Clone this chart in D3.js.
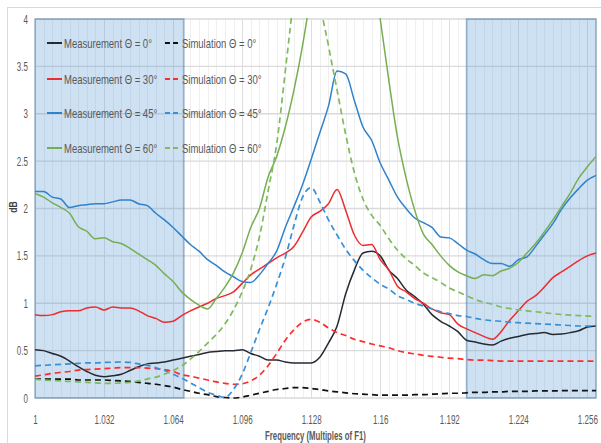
<!DOCTYPE html>
<html><head><meta charset="utf-8">
<script src="https://cdn.jsdelivr.net/npm/d3@7"></script>
<style>body{margin:0;background:#fff}svg{display:block}</style>
</head><body><svg id="c" width="601" height="443"></svg>
<script>
// ---------- DATA ----------
const freq = [1.000,1.004,1.008,1.012,1.016,1.020,1.024,1.028,1.032,1.036,1.040,1.044,1.048,1.052,1.056,1.060,1.064,1.068,1.072,1.076,1.080,1.084,1.088,1.092,1.096,1.100,1.104,1.108,1.112,1.116,1.120,1.124,1.128,1.132,1.136,1.140,1.144,1.148,1.152,1.156,1.160,1.164,1.168,1.172,1.176,1.180,1.184,1.188,1.192,1.196,1.200,1.204,1.208,1.212,1.216,1.220,1.224,1.228,1.232,1.236,1.240,1.244,1.248,1.252,1.256,1.260];

const meas0 = [0.51,0.50,0.47,0.44,0.39,0.33,0.28,0.24,0.225,0.235,0.25,0.29,0.33,0.36,0.37,0.38,0.40,0.42,0.44,0.46,0.48,0.49,0.50,0.50,0.51,0.47,0.44,0.40,0.40,0.38,0.37,0.37,0.37,0.43,0.58,0.76,1.10,1.35,1.53,1.55,1.50,1.35,1.26,1.14,1.07,0.99,0.88,0.81,0.76,0.70,0.61,0.59,0.57,0.56,0.60,0.63,0.65,0.67,0.68,0.69,0.67,0.675,0.69,0.71,0.75,0.76];
const sim0 = [0.20,0.20,0.20,0.20,0.20,0.19,0.19,0.19,0.19,0.185,0.18,0.175,0.165,0.155,0.145,0.13,0.115,0.09,0.07,0.05,0.035,0.015,0.005,0.0,0.01,0.03,0.05,0.07,0.09,0.10,0.11,0.11,0.10,0.09,0.075,0.065,0.055,0.045,0.04,0.035,0.03,0.03,0.03,0.03,0.035,0.035,0.04,0.045,0.05,0.05,0.055,0.06,0.06,0.065,0.065,0.07,0.07,0.07,0.075,0.075,0.075,0.077,0.077,0.077,0.077,0.077];
const meas30 = [0.88,0.87,0.88,0.91,0.92,0.92,0.95,0.96,0.93,0.96,0.95,0.95,0.92,0.87,0.84,0.80,0.81,0.87,0.92,0.96,1.00,1.05,1.08,1.12,1.21,1.30,1.36,1.42,1.48,1.53,1.60,1.75,1.91,1.97,2.05,2.20,1.98,1.72,1.61,1.62,1.46,1.35,1.18,1.12,1.05,1.00,0.94,0.90,0.88,0.78,0.73,0.69,0.65,0.62,0.70,0.82,0.92,1.02,1.08,1.17,1.27,1.33,1.39,1.45,1.50,1.53];
const sim30 = [0.23,0.245,0.26,0.27,0.28,0.295,0.30,0.305,0.31,0.315,0.32,0.32,0.32,0.315,0.31,0.30,0.28,0.245,0.23,0.21,0.19,0.17,0.155,0.145,0.15,0.18,0.24,0.34,0.47,0.61,0.72,0.80,0.83,0.80,0.74,0.69,0.66,0.62,0.595,0.57,0.55,0.53,0.50,0.48,0.465,0.45,0.44,0.43,0.42,0.415,0.405,0.40,0.40,0.395,0.39,0.39,0.39,0.39,0.39,0.39,0.39,0.39,0.39,0.39,0.39,0.39];
const meas45 = [2.18,2.18,2.12,2.10,2.01,2.03,2.04,2.05,2.05,2.07,2.09,2.09,2.05,2.03,1.95,1.88,1.80,1.71,1.62,1.55,1.46,1.40,1.33,1.28,1.23,1.22,1.30,1.42,1.55,1.80,2.02,2.25,2.52,2.80,3.08,3.45,3.42,3.14,2.86,2.72,2.48,2.30,2.12,2.00,1.90,1.85,1.80,1.70,1.69,1.63,1.56,1.52,1.46,1.42,1.42,1.39,1.46,1.49,1.60,1.72,1.84,1.99,2.11,2.21,2.30,2.35];
const sim45 = [0.34,0.345,0.35,0.355,0.36,0.365,0.37,0.37,0.375,0.378,0.38,0.375,0.36,0.345,0.32,0.29,0.25,0.21,0.16,0.11,0.06,0.03,0.005,0.09,0.25,0.48,0.72,0.95,1.20,1.48,1.82,2.12,2.22,2.07,1.88,1.72,1.57,1.45,1.35,1.27,1.20,1.15,1.08,1.04,1.00,0.97,0.94,0.91,0.89,0.87,0.86,0.84,0.825,0.815,0.81,0.80,0.795,0.79,0.785,0.78,0.775,0.77,0.765,0.76,0.76,0.76];
const meas60 = [2.16,2.12,2.06,2.01,1.95,1.81,1.76,1.68,1.69,1.65,1.63,1.58,1.52,1.46,1.40,1.31,1.23,1.12,1.04,0.98,0.94,1.05,1.17,1.32,1.53,1.80,2.00,2.33,2.55,2.86,3.25,3.72,4.3,5,5,5,5,5,5,4.6,4.0,3.35,2.75,2.32,1.98,1.73,1.62,1.50,1.40,1.33,1.29,1.26,1.30,1.29,1.34,1.37,1.43,1.53,1.63,1.75,1.88,2.02,2.16,2.32,2.44,2.55];
const sim60 = [0.20,0.19,0.185,0.18,0.175,0.17,0.165,0.16,0.155,0.155,0.16,0.165,0.18,0.20,0.22,0.25,0.29,0.34,0.41,0.49,0.58,0.67,0.78,0.93,1.12,1.36,1.70,2.18,2.68,3.45,4.3,5.5,5.5,4.25,3.72,3.25,2.78,2.38,2.10,1.93,1.82,1.68,1.56,1.47,1.40,1.32,1.27,1.22,1.16,1.12,1.08,1.04,1.01,0.99,0.96,0.945,0.93,0.92,0.91,0.90,0.89,0.88,0.875,0.87,0.865,0.86];

const seriesNames = ["Measurement Θ = 0°","Simulation Θ = 0°","Measurement Θ = 30°","Simulation Θ = 30°","Measurement Θ = 45°","Simulation Θ = 45°","Measurement Θ = 60°","Simulation Θ = 60°"];
const seriesValues = [meas0, sim0, meas30, sim30, meas45, sim45, meas60, sim60];
const seriesColors = ["#262a33","#111111","#ee2b2f","#ff2b2b","#2f82cc","#3590dc","#77ae52","#7fbb5c"];
const seriesDashed = [false,true,false,true,false,true,false,true];

const xTickValues = [1,1.032,1.064,1.096,1.128,1.16,1.192,1.224,1.256];
const xTickLabels = ["1","1.032","1.064","1.096","1.128","1.16","1.192","1.224","1.256"];
const yTickValues = [0,0.5,1,1.5,2,2.5,3,3.5,4];
const shadedBands = [[1,1.069],[1.2,1.26]];
const xTitle = "Frequency (Multiples of F1)";
const yTitle = "dB";

// ---------- CHART ----------
const FONT = "'Liberation Sans',Arial,sans-serif";
const svg = d3.select("#c");
const L = 35, R = 596, T = 19, B = 398;
const x = d3.scaleLinear().domain([1,1.26]).range([L,R]);
const y = d3.scaleLinear().domain([0,4]).range([B,T]);

function squeeze(sel, f){
  sel.each(function(){
    const w = this.getComputedTextLength();
    d3.select(this).attr("textLength", w*f).attr("lengthAdjust","spacingAndGlyphs");
  });
}

svg.append("rect").attr("x",7.5).attr("y",7.5).attr("width",610).attr("height",450)
  .attr("fill","#fff").attr("stroke","#d9d9d9");

// vertical minor grid
svg.append("g").selectAll("line").data(freq).join("line")
  .attr("x1",d=>Math.round(x(d))+0.5).attr("x2",d=>Math.round(x(d))+0.5)
  .attr("y1",T).attr("y2",B)
  .attr("stroke",d=>xTickValues.some(t=>Math.abs(t-d)<1e-6)?"#dedede":"#efefef")
  .attr("stroke-width",1);
// horizontal grid
svg.append("g").selectAll("line").data(yTickValues).join("line")
  .attr("x1",L).attr("x2",R).attr("y1",d=>y(d)).attr("y2",d=>y(d))
  .attr("stroke","#dadada").attr("stroke-width",1.4);

// shaded bands
svg.append("g").selectAll("rect").data(shadedBands).join("rect")
  .attr("x",d=>x(d[0])).attr("y",T).attr("width",d=>x(d[1])-x(d[0])).attr("height",B-T)
  .attr("fill","rgb(91,155,213)").attr("fill-opacity",0.3)
  .attr("stroke","#4f77a6").attr("stroke-opacity",0.55).attr("stroke-width",1.5);

// axes (labels only)
const ya = svg.append("g").attr("transform",`translate(${L},0)`)
  .call(d3.axisLeft(y).tickValues(yTickValues).tickSize(0).tickPadding(7).tickFormat(d3.format("")));
ya.select(".domain").remove();
ya.selectAll("text").attr("fill","#595959").style("font-family",FONT).style("font-size","12.5px");
squeeze(ya.selectAll("text"),0.64);

const xa = svg.append("g").attr("transform",`translate(0,${B})`)
  .call(d3.axisBottom(x).tickValues(xTickValues).tickSize(0).tickPadding(17).tickFormat((d,i)=>xTickLabels[i]));
xa.select(".domain").remove();
xa.selectAll("text").attr("fill","#595959").style("font-family",FONT).style("font-size","12.5px")
  .attr("transform","scale(0.64,1)");

// clip
svg.append("clipPath").attr("id","clip").append("rect")
  .attr("x",L).attr("y",T-1).attr("width",R-L).attr("height",B-T+2);

const line = d3.line().x((d,i)=>x(freq[i])).y(d=>y(d)).curve(d3.curveMonotoneX);
const lg = svg.append("g").attr("clip-path","url(#clip)");
seriesValues.forEach((vals,s)=>{
  lg.append("path").datum(vals).attr("d",line)
    .attr("fill","none").attr("stroke",seriesColors[s])
    .attr("stroke-width",seriesDashed[s]?1.7:1.5)
    .attr("stroke-dasharray",seriesDashed[s]?"6,4":null)
    .attr("stroke-linejoin","round");
});

// legend
const rowsY = [43,79,113,148];
const colX = [47,165];
seriesNames.forEach((name,s)=>{
  const r = Math.floor(s/2), c = s%2;
  const g = svg.append("g").attr("transform",`translate(${colX[c]},${rowsY[r]})`);
  g.append("line").attr("x1",0).attr("x2",15).attr("y1",0).attr("y2",0)
    .attr("stroke",seriesColors[s]).attr("stroke-width",2)
    .attr("stroke-dasharray",seriesDashed[s]?"5,3":null);
  const t = g.append("text").attr("x",17).attr("y",0).attr("dy","0.36em").text(name)
    .attr("fill","#595959").style("font-family",FONT).style("font-size","13px");
  squeeze(t,0.73);
});

// titles
const yt = svg.append("text").attr("transform","translate(17,207) rotate(-90)").attr("text-anchor","middle")
  .text(yTitle).attr("fill","#404040").style("font-family",FONT).style("font-size","11.5px").style("font-weight","bold");
squeeze(yt,0.75);
const xt = svg.append("text").attr("x",(L+R)/2).attr("y",440).attr("text-anchor","middle")
  .text(xTitle).attr("fill","#595959").style("font-family",FONT).style("font-size","12.5px").style("font-weight","bold");
squeeze(xt,0.62);
</script></body></html>
